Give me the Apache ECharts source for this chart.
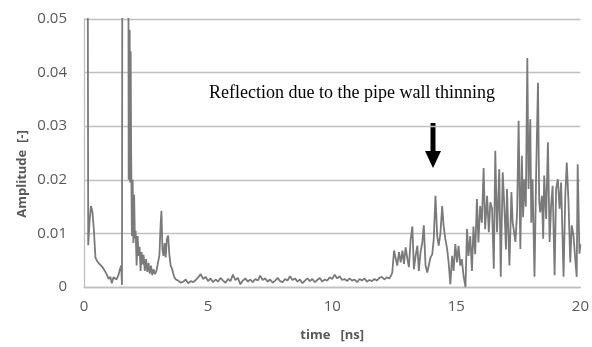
<!DOCTYPE html>
<html>
<head>
<meta charset="utf-8">
<script src="https://cdn.jsdelivr.net/npm/echarts@6/dist/echarts.min.js"></script>
<style>
html,body{margin:0;padding:0;background:#fff;}
#chart{width:592px;height:347px;}
</style>
</head>
<body>
<div id="chart"></div>
<script>
// ---- data (time in ns, amplitude in -) ----
var earlyTime = [0, 0.14, 0.17, 0.22, 0.28, 0.34, 0.40, 0.46, 0.52, 0.60, 0.68, 0.76, 0.84, 0.92, 0.99, 1.06, 1.12, 1.19, 1.25, 1.31, 1.38, 1.45, 1.50, 1.53, 1.55, 1.78, 1.80, 1.84, 1.86, 1.88, 1.90, 1.93, 1.96, 1.99, 2.02, 2.05, 2.08, 2.12, 2.16, 2.20, 2.24, 2.28, 2.32, 2.36, 2.40, 2.45, 2.50, 2.55, 2.60, 2.65, 2.70, 2.75, 2.80, 2.86, 2.92, 2.98, 3.04, 3.08, 3.12, 3.16, 3.20, 3.25, 3.29, 3.34, 3.39, 3.44, 3.49, 3.54, 3.59, 3.64, 3.70];
var earlyAmp = [0.09, 0.09, 0.0078, 0.0120, 0.0151, 0.0140, 0.0105, 0.0055, 0.0049, 0.0044, 0.0041, 0.0036, 0.0030, 0.0023, 0.0015, 0.0019, 0.0007, 0.0018, 0.0016, 0.0014, 0.0021, 0.0033, 0.0040, 0.0004, 0.09, 0.09, 0.0200, 0.0480, 0.0195, 0.0440, 0.0250, 0.0095, 0.0200, 0.0082, 0.0172, 0.0090, 0.0105, 0.0040, 0.0095, 0.0058, 0.0075, 0.0030, 0.0065, 0.0042, 0.0060, 0.0030, 0.0052, 0.0028, 0.0045, 0.0025, 0.0040, 0.0022, 0.0033, 0.0024, 0.0030, 0.0028, 0.0060, 0.0110, 0.0142, 0.0070, 0.0058, 0.0082, 0.0055, 0.0090, 0.0096, 0.0060, 0.0040, 0.0035, 0.0026, 0.0018, 0.0014];

var flatTime = [3.8, 3.9, 4.0, 4.1, 4.2, 4.3, 4.4, 4.5, 4.6, 4.7, 4.8, 4.9, 5.0, 5.1, 5.2, 5.3, 5.4, 5.5, 5.6, 5.7, 5.8, 5.9, 6.0, 6.1, 6.2, 6.3, 6.4, 6.5, 6.6, 6.7, 6.8, 6.9, 7.0, 7.1, 7.2, 7.3, 7.4, 7.5, 7.6, 7.7, 7.8, 7.9, 8.0, 8.1, 8.2, 8.3, 8.4, 8.5, 8.6, 8.7, 8.8, 8.9, 9.0, 9.1, 9.2, 9.3, 9.4, 9.5, 9.6, 9.7, 9.8, 9.9, 10.0, 10.1, 10.2, 10.3, 10.4, 10.5, 10.6, 10.7, 10.8, 10.9, 11.0, 11.1, 11.2, 11.3, 11.4, 11.5, 11.6, 11.7, 11.8, 11.9, 12.0, 12.1, 12.2, 12.3];
var flatAmp = [0.0012, 0.0008, 0.0010, 0.0014, 0.0007, 0.0011, 0.0009, 0.0013, 0.0018, 0.0024, 0.0015, 0.0019, 0.0011, 0.0016, 0.0009, 0.0014, 0.0010, 0.0017, 0.0012, 0.0008, 0.0015, 0.0011, 0.0023, 0.0013, 0.0017, 0.0005, 0.0012, 0.0016, 0.0010, 0.0014, 0.0009, 0.0015, 0.0012, 0.0021, 0.0013, 0.0016, 0.0010, 0.0014, 0.0008, 0.0012, 0.0017, 0.0011, 0.0009, 0.0015, 0.0012, 0.0020, 0.0013, 0.0016, 0.0010, 0.0014, 0.0007, 0.0012, 0.0016, 0.0011, 0.0015, 0.0009, 0.0013, 0.0017, 0.0010, 0.0014, 0.0012, 0.0018, 0.0015, 0.0023, 0.0016, 0.0020, 0.0013, 0.0015, 0.0011, 0.0016, 0.0012, 0.0014, 0.0009, 0.0015, 0.0012, 0.0016, 0.0010, 0.0013, 0.0011, 0.0015, 0.0012, 0.0017, 0.0019, 0.0014, 0.0018, 0.0016];

var lateTime = [12.38, 12.42, 12.49, 12.56, 12.62, 12.69, 12.76, 12.83, 12.89, 12.96, 13.03, 13.09, 13.16, 13.23, 13.29, 13.36, 13.43, 13.49, 13.56, 13.63, 13.69, 13.76, 13.83, 13.89, 13.96, 14.03, 14.09, 14.16, 14.23, 14.29, 14.36, 14.43, 14.49, 14.56, 14.63, 14.69, 14.76, 14.83, 14.89, 14.96, 15.03, 15.09, 15.16, 15.22, 15.29, 15.37, 15.43, 15.49, 15.56, 15.63, 15.69, 15.76, 15.83, 15.89, 15.96, 16.03, 16.10, 16.16, 16.24, 16.31, 16.37, 16.44, 16.51, 16.57, 16.64, 16.68, 16.73, 16.79, 16.83, 16.87, 16.95, 17.00, 17.04, 17.09, 17.14, 17.22, 17.27, 17.31, 17.38, 17.45, 17.51, 17.58, 17.64, 17.69, 17.74, 17.80, 17.86, 17.91, 17.98, 18.02, 18.07, 18.15, 18.21, 18.29, 18.34, 18.38, 18.45, 18.50, 18.54, 18.62, 18.69, 18.76, 18.82, 18.88, 18.96, 19.02, 19.09, 19.16, 19.22, 19.27, 19.32, 19.39, 19.45, 19.52, 19.59, 19.65, 19.72, 19.79, 19.85, 19.89, 19.96, 20.0];
var lateAmp = [0.0022, 0.0027, 0.0068, 0.0071, 0.0040, 0.0065, 0.0046, 0.0068, 0.0043, 0.0074, 0.0052, 0.0037, 0.0089, 0.0113, 0.0033, 0.0058, 0.0077, 0.0030, 0.0065, 0.0083, 0.0115, 0.0040, 0.0027, 0.0040, 0.0055, 0.0061, 0.0089, 0.0170, 0.0095, 0.0077, 0.0100, 0.0151, 0.0113, 0.0089, 0.0071, 0.0046, 0.0005, 0.0058, 0.0030, 0.0080, 0.0046, 0.0077, 0.0040, 0.0052, 0.0021, 0.0000, 0.0108, 0.0058, 0.0095, 0.0030, 0.0113, 0.0061, 0.0164, 0.0083, 0.0151, 0.0120, 0.0222, 0.0108, 0.0170, 0.0102, 0.0158, 0.0146, 0.0034, 0.0254, 0.0102, 0.0150, 0.0220, 0.0019, 0.0120, 0.0214, 0.0133, 0.0070, 0.0183, 0.0110, 0.0040, 0.0177, 0.0120, 0.0108, 0.0084, 0.0140, 0.0310, 0.0071, 0.0245, 0.0130, 0.0201, 0.0150, 0.0427, 0.0183, 0.0313, 0.0120, 0.0201, 0.0019, 0.0195, 0.0381, 0.0160, 0.0139, 0.0170, 0.0090, 0.0208, 0.0127, 0.0270, 0.0084, 0.0152, 0.0189, 0.0022, 0.0183, 0.0201, 0.0146, 0.0195, 0.0110, 0.0019, 0.0170, 0.0232, 0.0158, 0.0046, 0.0115, 0.0096, 0.0053, 0.0019, 0.0229, 0.0062, 0.0080];

var xTicks = [0, 5, 10, 15, 20];
var yTicks = [0, 0.01, 0.02, 0.03, 0.04, 0.05];

var titleText = '(b) Result of the thinned pipe';
var annotationText = 'Reflection due to the pipe wall thinning';
var xAxisName = 'time   [ns]';
var yAxisName = 'Amplitude  [-]';

// build pairs
var timeAll = earlyTime.concat(flatTime, lateTime);
var ampAll = earlyAmp.concat(flatAmp, lateAmp);
var seriesData = timeAll.map(function (t, i) { return [t, ampAll[i]]; });

var chart = echarts.init(document.getElementById('chart'), null, {renderer: 'canvas'});
var gridCol = '#c0c0c0';
var labelCol = '#595959';
var sans = '"Open Sans", sans-serif';
var serif = '"Liberation Serif", "Times New Roman", serif';

chart.setOption({
  animation: false,
  backgroundColor: '#ffffff',
  grid: {left: 84, right: 10, top: 19, bottom: 59, containLabel: false},
  xAxis: {
    type: 'value', min: xTicks[0], max: xTicks[xTicks.length - 1], interval: 5,
    axisLine: {show: true, lineStyle: {color: gridCol, width: 1.3}},
    axisTick: {show: false},
    splitLine: {show: false},
    axisLabel: {color: labelCol, fontFamily: sans, fontSize: 15, margin: 12},
    name: xAxisName, nameLocation: 'middle', nameGap: 42,
    nameTextStyle: {color: labelCol, fontFamily: sans, fontSize: 13, fontWeight: 'bold'}
  },
  yAxis: {
    type: 'value', min: yTicks[0], max: yTicks[yTicks.length - 1], interval: 0.01,
    axisLine: {show: true, lineStyle: {color: gridCol, width: 1.3}},
    axisTick: {show: false},
    splitLine: {show: true, lineStyle: {color: gridCol, width: 1.3}},
    axisLabel: {color: labelCol, fontFamily: sans, fontSize: 15, margin: 17}
  },
  series: [{
    type: 'line',
    data: seriesData,
    showSymbol: false,
    symbol: 'none',
    clip: true,
    lineStyle: {color: '#7a7a7a', width: 1.8},
    z: 3
  }],
  graphic: [
    {type: 'text', left: 203, top: -17, style: {text: titleText, font: '16px ' + serif, fill: '#000'}},
    {type: 'text', x: 22, y: 174, rotation: Math.PI / 2,
      style: {text: yAxisName, font: 'bold 13px ' + sans, fill: labelCol, align: 'center', verticalAlign: 'middle'}},
    {type: 'text', left: 209, top: 84, style: {text: annotationText, font: '18px ' + serif, fill: '#000'}},
    {type: 'rect', shape: {x: 430.5, y: 123, width: 5, height: 30}, style: {fill: '#000'}},
    {type: 'polygon', shape: {points: [[425, 151], [441, 151], [433, 168]]}, style: {fill: '#000'}}
  ]
});
</script>
</body>
</html>
